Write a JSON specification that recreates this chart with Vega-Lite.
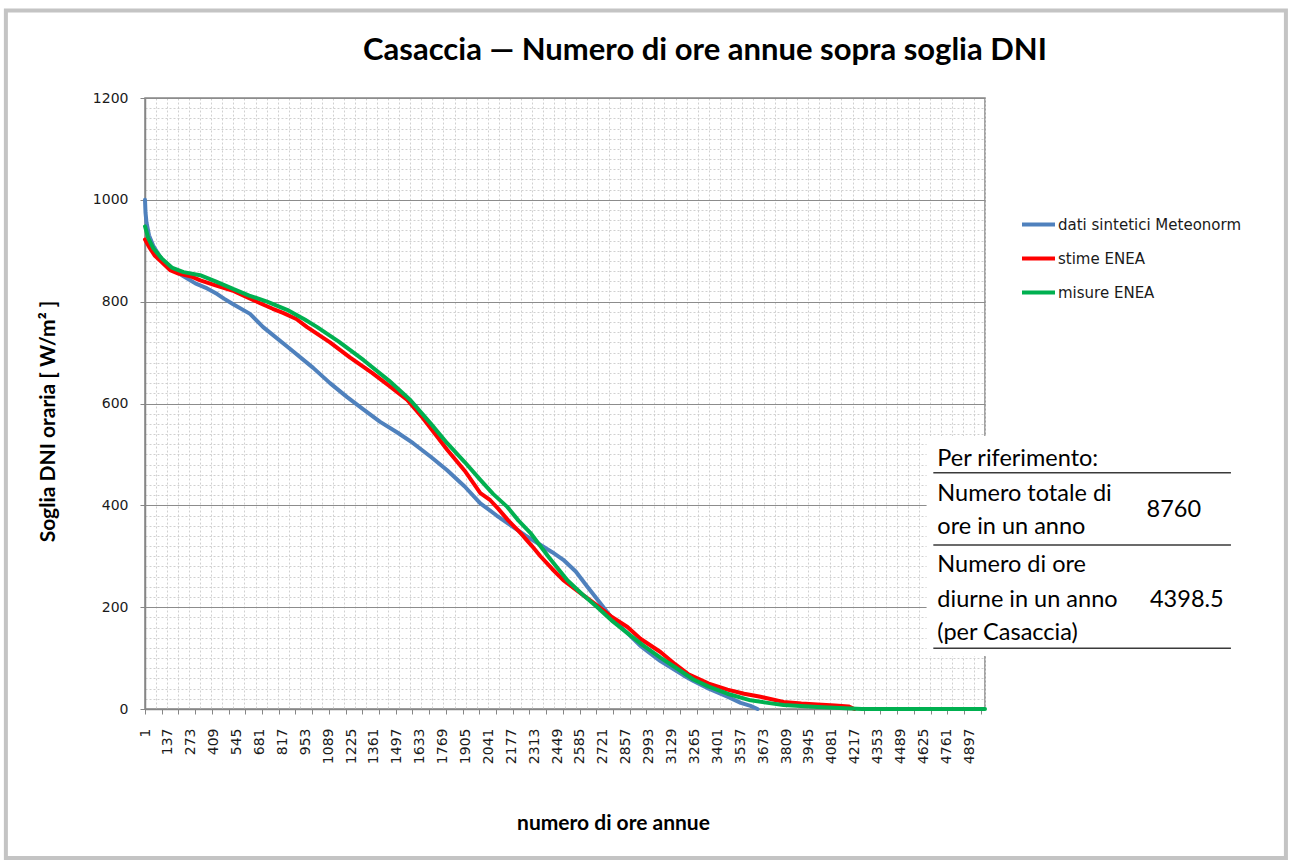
{
  "$schema": "https://vega.github.io/schema/vega-lite/v6.json",
  "width": 840,
  "height": 611,
  "autosize": {"type": "none"},
  "padding": {"left": 145, "top": 98, "right": 305, "bottom": 152},
  "background": "white",
  "title": {
    "text": "Casaccia — Numero di ore annue sopra soglia DNI",
    "font": "Lato",
    "fontSize": 31,
    "fontWeight": "bold",
    "color": "#000000",
    "anchor": "middle",
    "frame": "group",
    "baseline": "alphabetic",
    "offset": -82.5,
    "dx": 140
  },
  "config": {
    "view": {"stroke": "#868686", "strokeWidth": 1.5},
    "axis": {"labelFont": "DejaVu Sans", "titleFont": "Lato", "labelColor": "#1a1a1a", "titleColor": "#000000"}
  },
  "datasets": {
    "curves": [
      {"series": "dati sintetici Meteonorm", "h": 1, "v": 1000},
      {"series": "dati sintetici Meteonorm", "h": 4, "v": 975},
      {"series": "dati sintetici Meteonorm", "h": 10, "v": 955},
      {"series": "dati sintetici Meteonorm", "h": 25, "v": 930},
      {"series": "dati sintetici Meteonorm", "h": 50, "v": 910},
      {"series": "dati sintetici Meteonorm", "h": 90, "v": 888},
      {"series": "dati sintetici Meteonorm", "h": 130, "v": 872},
      {"series": "dati sintetici Meteonorm", "h": 170, "v": 862},
      {"series": "dati sintetici Meteonorm", "h": 230, "v": 850},
      {"series": "dati sintetici Meteonorm", "h": 300, "v": 836},
      {"series": "dati sintetici Meteonorm", "h": 370, "v": 826},
      {"series": "dati sintetici Meteonorm", "h": 430, "v": 815},
      {"series": "dati sintetici Meteonorm", "h": 470, "v": 806},
      {"series": "dati sintetici Meteonorm", "h": 525, "v": 795},
      {"series": "dati sintetici Meteonorm", "h": 625, "v": 776},
      {"series": "dati sintetici Meteonorm", "h": 703, "v": 750},
      {"series": "dati sintetici Meteonorm", "h": 860, "v": 708},
      {"series": "dati sintetici Meteonorm", "h": 1000, "v": 670},
      {"series": "dati sintetici Meteonorm", "h": 1100, "v": 640},
      {"series": "dati sintetici Meteonorm", "h": 1200, "v": 613},
      {"series": "dati sintetici Meteonorm", "h": 1300, "v": 588},
      {"series": "dati sintetici Meteonorm", "h": 1398, "v": 564},
      {"series": "dati sintetici Meteonorm", "h": 1500, "v": 543},
      {"series": "dati sintetici Meteonorm", "h": 1594, "v": 522},
      {"series": "dati sintetici Meteonorm", "h": 1700, "v": 495},
      {"series": "dati sintetici Meteonorm", "h": 1796, "v": 469},
      {"series": "dati sintetici Meteonorm", "h": 1900, "v": 437},
      {"series": "dati sintetici Meteonorm", "h": 1993, "v": 404},
      {"series": "dati sintetici Meteonorm", "h": 2090, "v": 380},
      {"series": "dati sintetici Meteonorm", "h": 2189, "v": 357},
      {"series": "dati sintetici Meteonorm", "h": 2260, "v": 341},
      {"series": "dati sintetici Meteonorm", "h": 2332, "v": 326},
      {"series": "dati sintetici Meteonorm", "h": 2420, "v": 308},
      {"series": "dati sintetici Meteonorm", "h": 2486, "v": 293},
      {"series": "dati sintetici Meteonorm", "h": 2560, "v": 270},
      {"series": "dati sintetici Meteonorm", "h": 2629, "v": 240},
      {"series": "dati sintetici Meteonorm", "h": 2700, "v": 210},
      {"series": "dati sintetici Meteonorm", "h": 2783, "v": 175},
      {"series": "dati sintetici Meteonorm", "h": 2867, "v": 149},
      {"series": "dati sintetici Meteonorm", "h": 2944, "v": 124},
      {"series": "dati sintetici Meteonorm", "h": 3063, "v": 94},
      {"series": "dati sintetici Meteonorm", "h": 3200, "v": 66},
      {"series": "dati sintetici Meteonorm", "h": 3259, "v": 55},
      {"series": "dati sintetici Meteonorm", "h": 3350, "v": 40},
      {"series": "dati sintetici Meteonorm", "h": 3461, "v": 24},
      {"series": "dati sintetici Meteonorm", "h": 3540, "v": 12},
      {"series": "dati sintetici Meteonorm", "h": 3598, "v": 6},
      {"series": "dati sintetici Meteonorm", "h": 3640, "v": 0},
      {"series": "stime ENEA", "h": 1, "v": 922},
      {"series": "stime ENEA", "h": 30, "v": 905},
      {"series": "stime ENEA", "h": 60, "v": 890},
      {"series": "stime ENEA", "h": 100, "v": 878},
      {"series": "stime ENEA", "h": 150, "v": 862},
      {"series": "stime ENEA", "h": 200, "v": 855},
      {"series": "stime ENEA", "h": 270, "v": 850},
      {"series": "stime ENEA", "h": 330, "v": 842},
      {"series": "stime ENEA", "h": 420, "v": 832},
      {"series": "stime ENEA", "h": 520, "v": 822},
      {"series": "stime ENEA", "h": 600, "v": 810},
      {"series": "stime ENEA", "h": 685, "v": 797},
      {"series": "stime ENEA", "h": 760, "v": 786},
      {"series": "stime ENEA", "h": 821, "v": 778},
      {"series": "stime ENEA", "h": 900, "v": 766},
      {"series": "stime ENEA", "h": 964, "v": 750},
      {"series": "stime ENEA", "h": 1100, "v": 720},
      {"series": "stime ENEA", "h": 1220, "v": 690},
      {"series": "stime ENEA", "h": 1350, "v": 660},
      {"series": "stime ENEA", "h": 1450, "v": 635},
      {"series": "stime ENEA", "h": 1559, "v": 607},
      {"series": "stime ENEA", "h": 1650, "v": 572},
      {"series": "stime ENEA", "h": 1720, "v": 542},
      {"series": "stime ENEA", "h": 1796, "v": 509},
      {"series": "stime ENEA", "h": 1900, "v": 468},
      {"series": "stime ENEA", "h": 1993, "v": 424},
      {"series": "stime ENEA", "h": 2052, "v": 410},
      {"series": "stime ENEA", "h": 2100, "v": 393},
      {"series": "stime ENEA", "h": 2160, "v": 370},
      {"series": "stime ENEA", "h": 2231, "v": 346},
      {"series": "stime ENEA", "h": 2300, "v": 320},
      {"series": "stime ENEA", "h": 2350, "v": 300},
      {"series": "stime ENEA", "h": 2420, "v": 275},
      {"series": "stime ENEA", "h": 2486, "v": 253},
      {"series": "stime ENEA", "h": 2570, "v": 232},
      {"series": "stime ENEA", "h": 2680, "v": 205},
      {"series": "stime ENEA", "h": 2770, "v": 182},
      {"series": "stime ENEA", "h": 2867, "v": 161},
      {"series": "stime ENEA", "h": 2944, "v": 138},
      {"series": "stime ENEA", "h": 3063, "v": 112},
      {"series": "stime ENEA", "h": 3150, "v": 88},
      {"series": "stime ENEA", "h": 3230, "v": 68},
      {"series": "stime ENEA", "h": 3350, "v": 50},
      {"series": "stime ENEA", "h": 3461, "v": 38},
      {"series": "stime ENEA", "h": 3560, "v": 30},
      {"series": "stime ENEA", "h": 3657, "v": 24},
      {"series": "stime ENEA", "h": 3794, "v": 14},
      {"series": "stime ENEA", "h": 3900, "v": 11},
      {"series": "stime ENEA", "h": 3996, "v": 9},
      {"series": "stime ENEA", "h": 4100, "v": 7},
      {"series": "stime ENEA", "h": 4180, "v": 5},
      {"series": "stime ENEA", "h": 4215, "v": 0},
      {"series": "misure ENEA", "h": 1, "v": 948},
      {"series": "misure ENEA", "h": 20, "v": 925},
      {"series": "misure ENEA", "h": 50, "v": 905},
      {"series": "misure ENEA", "h": 100, "v": 885},
      {"series": "misure ENEA", "h": 160, "v": 867},
      {"series": "misure ENEA", "h": 230, "v": 858},
      {"series": "misure ENEA", "h": 328, "v": 852},
      {"series": "misure ENEA", "h": 420, "v": 840},
      {"series": "misure ENEA", "h": 524, "v": 825},
      {"series": "misure ENEA", "h": 620, "v": 812},
      {"series": "misure ENEA", "h": 726, "v": 800},
      {"series": "misure ENEA", "h": 845, "v": 784},
      {"series": "misure ENEA", "h": 950, "v": 765},
      {"series": "misure ENEA", "h": 1024, "v": 750},
      {"series": "misure ENEA", "h": 1150, "v": 722},
      {"series": "misure ENEA", "h": 1300, "v": 685},
      {"series": "misure ENEA", "h": 1450, "v": 645},
      {"series": "misure ENEA", "h": 1577, "v": 607},
      {"series": "misure ENEA", "h": 1700, "v": 560},
      {"series": "misure ENEA", "h": 1796, "v": 522},
      {"series": "misure ENEA", "h": 1900, "v": 485},
      {"series": "misure ENEA", "h": 1993, "v": 450},
      {"series": "misure ENEA", "h": 2070, "v": 422},
      {"series": "misure ENEA", "h": 2153, "v": 397},
      {"series": "misure ENEA", "h": 2220, "v": 370},
      {"series": "misure ENEA", "h": 2290, "v": 346},
      {"series": "misure ENEA", "h": 2400, "v": 298},
      {"series": "misure ENEA", "h": 2510, "v": 253},
      {"series": "misure ENEA", "h": 2600, "v": 225},
      {"series": "misure ENEA", "h": 2688, "v": 200},
      {"series": "misure ENEA", "h": 2780, "v": 172},
      {"series": "misure ENEA", "h": 2867, "v": 149},
      {"series": "misure ENEA", "h": 2960, "v": 125},
      {"series": "misure ENEA", "h": 3063, "v": 101},
      {"series": "misure ENEA", "h": 3150, "v": 82},
      {"series": "misure ENEA", "h": 3259, "v": 58},
      {"series": "misure ENEA", "h": 3350, "v": 44},
      {"series": "misure ENEA", "h": 3461, "v": 30},
      {"series": "misure ENEA", "h": 3598, "v": 17},
      {"series": "misure ENEA", "h": 3700, "v": 12},
      {"series": "misure ENEA", "h": 3794, "v": 8},
      {"series": "misure ENEA", "h": 3996, "v": 4},
      {"series": "misure ENEA", "h": 4192, "v": 1},
      {"series": "misure ENEA", "h": 4260, "v": 0},
      {"series": "misure ENEA", "h": 4991, "v": 0}
    ]
  },
  "layer": [
    {
      "data": {"name": "curves"},
      "transform": [{"filter": "datum.series === 'dati sintetici Meteonorm'"}],
      "mark": {"type": "line", "strokeWidth": 4, "strokeJoin": "round", "strokeCap": "round"},
      "encoding": {
        "x": {
          "field": "h", "type": "quantitative",
          "scale": {"domain": [1, 4991], "nice": false, "zero": false},
          "axis": {
            "orient": "bottom", "title": null, "labels": false, "ticks": false, "domain": false,
            "grid": true, "gridColor": "#d0d0d0", "gridDash": [2, 2], "gridWidth": 1,
            "values": [1, 67, 132, 198, 264, 329, 395, 461, 526, 592, 658, 723, 789, 855, 920, 986, 1052, 1117, 1183, 1249, 1314, 1380, 1446, 1511, 1577, 1643, 1708, 1774, 1840, 1905, 1971, 2037, 2102, 2168, 2234, 2299, 2365, 2431, 2496, 2562, 2627, 2693, 2759, 2825, 2890, 2956, 3022, 3087, 3153, 3219, 3284, 3350, 3416, 3481, 3547, 3613, 3678, 3744, 3810, 3875, 3941, 4007, 4072, 4138, 4204, 4269, 4335, 4401, 4466, 4532, 4597, 4663, 4729, 4795, 4860, 4926, 4991]
          }
        },
        "y": {
          "field": "v", "type": "quantitative",
          "scale": {"domain": [0, 1200], "nice": false},
          "axis": {
            "orient": "left", "title": null, "labels": false, "ticks": false, "domain": false,
            "grid": true, "gridColor": "#d0d0d0", "gridDash": [2, 2], "gridWidth": 1,
            "values": [20, 40, 60, 80, 100, 120, 140, 160, 180, 220, 240, 260, 280, 300, 320, 340, 360, 380, 420, 440, 460, 480, 500, 520, 540, 560, 580, 620, 640, 660, 680, 700, 720, 740, 760, 780, 820, 840, 860, 880, 900, 920, 940, 960, 980, 1020, 1040, 1060, 1080, 1100, 1120, 1140, 1160, 1180]
          }
        },
        "color": {
          "field": "series", "type": "nominal",
          "scale": {"domain": ["dati sintetici Meteonorm", "stime ENEA", "misure ENEA"], "range": ["#4f81bd", "#ff0000", "#00b050"]},
          "legend": {
            "orient": "none", "legendX": 875, "legendY": 108, "title": null,
            "symbolType": "stroke", "symbolStrokeWidth": 4, "symbolSize": 1089,
            "labelFont": "DejaVu Sans", "labelFontSize": 15, "labelColor": "#1a1a1a", "labelLimit": 0,
            "labelOffset": 1, "rowPadding": 7, "padding": 0
          }
        }
      }
    },
    {
      "data": {"name": "curves"},
      "transform": [{"filter": "datum.series === 'stime ENEA'"}],
      "mark": {"type": "line", "strokeWidth": 4, "strokeJoin": "round", "strokeCap": "round"},
      "encoding": {
        "x": {
          "field": "h", "type": "quantitative",
          "axis": {
            "orient": "bottom", "title": null, "labels": false, "domain": false, "grid": false,
            "ticks": true, "tickSize": 5, "tickColor": "#868686", "tickWidth": 1,
            "values": [1, 100, 200, 299, 398, 498, 597, 696, 795, 895, 994, 1093, 1193, 1292, 1391, 1490, 1590, 1689, 1788, 1888, 1987, 2086, 2186, 2285, 2384, 2484, 2583, 2682, 2781, 2881, 2980, 3079, 3179, 3278, 3377, 3477, 3576, 3675, 3774, 3874, 3973, 4072, 4172, 4271, 4370, 4470, 4569, 4668, 4768, 4867, 4966]
          }
        },
        "y": {
          "field": "v", "type": "quantitative",
          "axis": {
            "orient": "left",
            "values": [0, 200, 400, 600, 800, 1000, 1200],
            "grid": true, "gridColor": "#8c8c8c", "gridWidth": 1,
            "domain": true, "domainColor": "#868686", "domainWidth": 1.5,
            "ticks": true, "tickSize": 5, "tickColor": "#868686",
            "labelFontSize": 14, "labelPadding": 12, "format": "d",
            "title": "Soglia DNI oraria  [ W/m² ]",
            "titleFontSize": 21, "titleFontWeight": "bold",
            "titleAngle": -90, "titleX": -97, "titleY": 323, "titleBaseline": "middle", "titleAlign": "center"
          }
        },
        "color": {"field": "series", "type": "nominal"}
      }
    },
    {
      "data": {"name": "curves"},
      "transform": [{"filter": "datum.series === 'misure ENEA'"}],
      "mark": {"type": "line", "strokeWidth": 4, "strokeJoin": "round", "strokeCap": "round"},
      "encoding": {
        "x": {
          "field": "h", "type": "quantitative",
          "axis": {
            "orient": "bottom", "grid": false, "ticks": false,
            "domain": true, "domainColor": "#868686", "domainWidth": 1.5,
            "labelAngle": -90, "labelFontSize": 14, "labelPadding": 19, "format": "d",
            "labelAlign": "right", "labelBaseline": "middle", "labelOverlap": false, "labelFlush": false,
            "values": [1, 137, 273, 409, 545, 681, 817, 953, 1089, 1225, 1361, 1497, 1633, 1769, 1905, 2041, 2177, 2313, 2449, 2585, 2721, 2857, 2993, 3129, 3265, 3401, 3537, 3673, 3809, 3945, 4081, 4217, 4353, 4489, 4625, 4761, 4897],
            "title": "numero di ore annue",
            "titleFontSize": 21, "titleFontWeight": "bold",
            "titleX": 468, "titleY": 120, "titleBaseline": "alphabetic", "titleAlign": "center"
          }
        },
        "y": {"field": "v", "type": "quantitative", "axis": null},
        "color": {"field": "series", "type": "nominal"}
      }
    },
    {
      "data": {"values": [{}]},
      "mark": {"type": "rect", "fill": "white", "stroke": null},
      "encoding": {
        "x": {"datum": 4644, "type": "quantitative", "axis": null},
        "x2": {"datum": 6488},
        "y": {"datum": 536, "type": "quantitative", "axis": null},
        "y2": {"datum": 104}
      }
    },
    {
      "data": {"values": [{"v": 464.1}, {"v": 322.1}, {"v": 119.2}]},
      "mark": {"type": "rule", "color": "#3a3a3a", "strokeWidth": 1.5},
      "encoding": {
        "x": {"datum": 4684, "type": "quantitative", "axis": null},
        "x2": {"datum": 6452},
        "y": {"field": "v", "type": "quantitative", "axis": null}
      }
    },
    {
      "data": {"values": [{"t": "Per riferimento:", "v": 477.2}, {"t": "Numero totale di", "v": 408.5}, {"t": "ore in un anno", "v": 343.1}, {"t": "Numero di ore", "v": 269.7}, {"t": "diurne in un anno", "v": 200.9}, {"t": "(per Casaccia)", "v": 135.5}]},
      "mark": {"type": "text", "font": "Lato", "fontSize": 23.5, "align": "left", "baseline": "alphabetic", "color": "#000000"},
      "encoding": {
        "x": {"datum": 4708, "type": "quantitative", "axis": null},
        "y": {"field": "v", "type": "quantitative", "axis": null},
        "text": {"field": "t"}
      }
    },
    {
      "data": {"values": [{"t": "8760", "h": 6113, "v": 377.7}, {"t": "4398.5", "h": 6190, "v": 200.9}]},
      "mark": {"type": "text", "font": "Lato", "fontSize": 23.5, "align": "center", "baseline": "alphabetic", "color": "#000000"},
      "encoding": {
        "x": {"field": "h", "type": "quantitative", "axis": null},
        "y": {"field": "v", "type": "quantitative", "axis": null},
        "text": {"field": "t"}
      }
    },
    {
      "data": {"values": [{}]},
      "mark": {"type": "rect", "fill": null, "stroke": "#c4c4c4", "strokeWidth": 4},
      "encoding": {
        "x": {"datum": -825.4, "type": "quantitative", "axis": null},
        "x2": {"datum": 6778.6},
        "y": {"datum": 1371.8, "type": "quantitative", "axis": null},
        "y2": {"datum": -292.6}
      }
    }
  ],
  "resolve": {"axis": {"x": "independent", "y": "independent"}}
}
